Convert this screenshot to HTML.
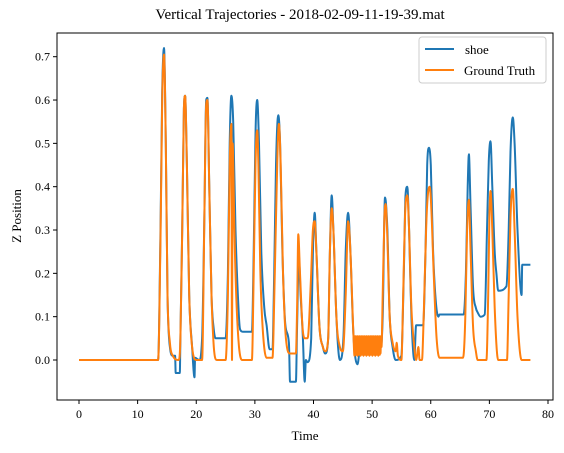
<!DOCTYPE html>
<html><head><meta charset="utf-8"><style>
body{margin:0;background:#fff;}
svg{display:block;font-family:"Liberation Serif",serif;}
</style></head><body>
<svg id="chart" width="564" height="453">
<rect width="564" height="453" fill="#fff"/>
<text x="300" y="19" font-size="15" text-anchor="middle">Vertical Trajectories - 2018-02-09-11-19-39.mat</text>
<g id="xt"></g>
<g id="yt"></g>
<defs><clipPath id="clip"><rect x="57" y="33" width="496" height="367"/></clipPath></defs>
<g clip-path="url(#clip)" id="plot"></g>
<rect x="57" y="33" width="496" height="367" fill="none" stroke="#000" stroke-width="1"/>
<text x="305" y="440" font-size="13" text-anchor="middle">Time</text>
<text transform="translate(21,216) rotate(-90)" font-size="13" text-anchor="middle">Z Position</text>
<g>
<rect x="419" y="37" width="127" height="46" rx="3" fill="#fff" fill-opacity="0.8" stroke="#ccc"/>
<line x1="425" y1="49" x2="454" y2="49" stroke="#1f77b4" stroke-width="2"/>
<text x="465" y="54" font-size="13">shoe</text>
<line x1="425" y1="70" x2="454" y2="70" stroke="#ff7f0e" stroke-width="2"/>
<text x="464" y="75" font-size="13">Ground Truth</text>
</g>
</svg>
<script>
const xTicks=[0,10,20,30,40,50,60,70,80];
const yTicks=[0.0,0.1,0.2,0.3,0.4,0.5,0.6,0.7];
const shoeT=[0,13.5,13.9,14.2,14.5,14.8,15.1,15.5,16,16.4,16.5,17.2,17.3,17.6,17.9,18.1,18.4,18.8,19.3,19.7,19.8,20.5,21,21.4,21.7,21.9,22.2,22.6,23,23.3,23.5,25,25.4,25.7,26,26.3,26.7,27.2,27.5,28,29.5,29.8,30.1,30.4,30.7,31.1,31.6,32,32.5,33,33.3,33.6,34,34.3,34.7,35.2,35.8,36,37,37.2,37.5,37.8,38.2,38.5,38.7,39,39.6,39.9,40.2,40.5,41,41.6,42,42.5,42.8,43.1,43.4,43.9,44.5,45.1,45.5,45.9,46.3,46.8,47.5,48,51.5,51.8,52.2,52.6,53,53.5,54,55,55.4,55.7,56,56.3,56.7,57.2,57.5,58.7,59.1,59.4,59.7,60,60.4,60.9,61.3,61.5,65.6,66,66.3,66.5,66.8,67.2,67.7,68,68.5,69.2,69.6,69.9,70.2,70.5,70.9,71.2,71.5,72.9,73.3,73.6,74,74.3,74.8,75.5,75.6,77];
const shoeZ=[0,0,0.3,0.62,0.72,0.5,0.15,0.03,0.01,0.01,-0.03,-0.03,0.05,0.3,0.58,0.61,0.45,0.15,0.03,-0.04,0.005,0,0.05,0.35,0.6,0.605,0.42,0.15,0.07,0.05,0.05,0.05,0.2,0.5,0.61,0.55,0.3,0.12,0.07,0.065,0.065,0.25,0.52,0.60,0.5,0.25,0.12,0.08,0.025,0.025,0.2,0.45,0.565,0.5,0.25,0.08,0.04,-0.05,-0.05,0.08,0.24,0.15,0.05,-0.05,0.0,-0.005,0.05,0.25,0.34,0.25,0.08,0.03,0.015,0.05,0.25,0.38,0.3,0.1,0.0,0.05,0.25,0.34,0.25,0.06,-0.01,0.03,0.03,0.1,0.375,0.3,0.1,0.03,0.0,0.01,0.2,0.38,0.40,0.3,0.1,0.0,0.08,0.08,0.25,0.45,0.49,0.45,0.25,0.13,0.1,0.105,0.105,0.2,0.4,0.475,0.35,0.17,0.12,0.11,0.1,0.105,0.3,0.46,0.505,0.4,0.25,0.2,0.16,0.17,0.3,0.48,0.56,0.5,0.3,0.15,0.22,0.22];
const gtT=[0,13.5,13.9,14.2,14.5,14.8,15.1,15.5,16,17,17.3,17.6,17.9,18.1,18.4,18.8,19.3,20,21,21.4,21.7,21.9,22.2,22.6,23,23.5,25,25.4,25.7,26,26.1,26.2,26.5,26.9,27.3,27.8,29.5,29.8,30.1,30.4,30.6,30.9,31.3,32,33,33.4,33.8,34.1,34.4,34.8,35.3,36,37,37.2,37.4,37.7,38.1,38.5,39,39.6,39.9,40.2,40.5,41,41.6,42,42.5,42.8,43.1,43.4,43.9,44.5,45,45.5,45.9,46.3,46.8];
const gtZ=[0,0,0.28,0.6,0.705,0.5,0.15,0.04,0.01,0,0.05,0.3,0.58,0.61,0.45,0.15,0.03,0,0,0.35,0.59,0.60,0.42,0.15,0.03,0,0,0.15,0.45,0.545,0,0.5,0.3,0.12,0.03,0,0,0.2,0.45,0.53,0.45,0.22,0.08,0.005,0.005,0.2,0.45,0.545,0.45,0.2,0.05,0.015,0.015,0.12,0.29,0.2,0.08,0.05,0.05,0.2,0.3,0.32,0.25,0.08,0.03,0.02,0.05,0.25,0.35,0.3,0.1,0.03,0.02,0.15,0.32,0.25,0.06];
const gtNoise=[0.01,0.055,0.015,0.055,0.012,0.05,0.015,0.055,0.01,0.055,0.015,0.052,0.012,0.055,0.015,0.055,0.01,0.05,0.015,0.055,0.012,0.055,0.015,0.05,0.01,0.055,0.015,0.055,0.012,0.05,0.015,0.055,0.01,0.055,0.015,0.05,0.012,0.055,0.015,0.055,0.01,0.05,0.015,0.055,0.012,0.055,0.015,0.05,0.01,0.055,0.015,0.055,0.012,0.05,0.015,0.055,0.01,0.055,0.015,0.05,0.012,0.055,0.015,0.055,0.01,0.05,0.015,0.055,0.012,0.055,0.015,0.05];
const gtT2=[51.6,51.8,52.1,52.3,52.6,53,53.5,54,54.2,54.4,55,55.3,55.6,56,56.3,56.7,57.2,57.5,57.9,58.1,58.5,58.8,59.2,59.5,59.8,60.1,60.5,61,61.5,65.5,65.9,66.2,66.5,66.8,67.2,67.7,68,69.5,69.8,70,70.2,70.5,70.9,71.5,73,73.3,73.6,74,74.3,74.8,75.5,77];
const gtZ2=[0.03,0.15,0.33,0.36,0.28,0.1,0.04,0.02,0.04,0.01,0.0,0.15,0.33,0.38,0.3,0.12,0.03,0.0,0.03,0.0,0.0,0.1,0.3,0.38,0.40,0.35,0.2,0.05,0.005,0.005,0.1,0.3,0.37,0.25,0.08,0.02,0.0,0.0,0.15,0.33,0.39,0.3,0.12,0.0,0.0,0.15,0.33,0.395,0.3,0.1,0.0,0.0];
const NS='http://www.w3.org/2000/svg';
const X0=79,XS=(548-79)/80,Y0=360,YS=(360-56.7)/0.7;
const sx=v=>X0+v*XS, sy=v=>Y0-v*YS;
const xt=document.getElementById('xt'),yt=document.getElementById('yt'),plot=document.getElementById('plot');
function mk(tag,a,parent){const e=document.createElementNS(NS,tag);for(const k in a)e.setAttribute(k,a[k]);parent.appendChild(e);return e;}
xTicks.forEach(v=>{
 const l=mk('line',{x1:sx(v),x2:sx(v),y1:400,y2:404,stroke:'#000'},xt);
 
 
 const t=mk('text',{x:sx(v),y:418,'font-size':12,'text-anchor':'middle'},xt);t.textContent=v;
 
 
});
yTicks.forEach(v=>{
 const l=mk('line',{x1:53,x2:57,y1:sy(v),y2:sy(v),stroke:'#000'},yt);
 
 
 const t=mk('text',{x:50,y:sy(v)+4,'font-size':12,'text-anchor':'end'},yt);t.textContent=v.toFixed(1);
 
 
});
// monotone cubic path (no overshoot) for rounded peaks
function path(ts,zs){
 const px=ts.map(sx),py=zs.map(sy),n=px.length;
 const d=[],m=new Array(n).fill(0);
 for(let i=0;i<n-1;i++){const dx=px[i+1]-px[i];d.push(dx>0?(py[i+1]-py[i])/dx:0);}
 m[0]=d[0];m[n-1]=d[n-2];
 for(let i=1;i<n-1;i++){m[i]=(d[i-1]*d[i]<=0)?0:(d[i-1]+d[i])/2;}
 for(let i=0;i<n-1;i++){if(d[i]===0){m[i]=0;m[i+1]=0;continue;}const a=m[i]/d[i],b=m[i+1]/d[i],s=a*a+b*b;if(s>9){const t=3/Math.sqrt(s);m[i]=t*a*d[i];m[i+1]=t*b*d[i];}}
 let s='M'+px[0].toFixed(1)+','+py[0].toFixed(1);
 for(let i=0;i<n-1;i++){const h=(px[i+1]-px[i])/3;
  s+='C'+(px[i]+h).toFixed(1)+','+(py[i]+m[i]*h).toFixed(1)+' '+(px[i+1]-h).toFixed(1)+','+(py[i+1]-m[i+1]*h).toFixed(1)+' '+px[i+1].toFixed(1)+','+py[i+1].toFixed(1);}
 return s;
}
const sp=mk('path',{d:path(shoeT,shoeZ),fill:'none',stroke:'#1f77b4','stroke-width':2,'stroke-linejoin':'round'},plot);


const nT=gtNoise.map((v,i)=>47+i*(51.5-47)/(gtNoise.length-1));
const allT=gtT.concat(nT,gtT2), allZ=gtZ.concat(gtNoise,gtZ2);
const gp=mk('path',{d:path(allT,allZ),fill:'none',stroke:'#ff7f0e','stroke-width':2,'stroke-linejoin':'round'},plot);


</script>
</body></html>
